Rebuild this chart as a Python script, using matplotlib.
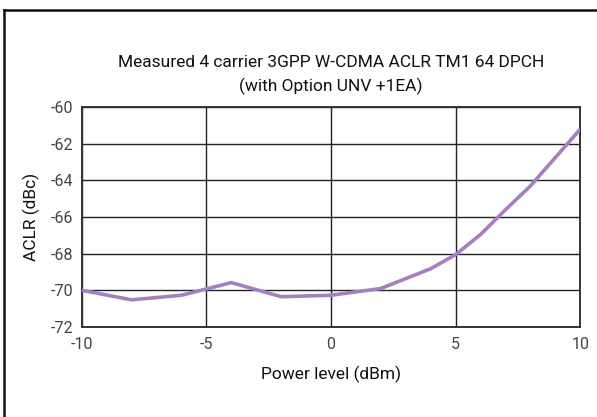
import matplotlib
matplotlib.use("Agg")
import matplotlib.pyplot as plt
from matplotlib.lines import Line2D

power_dbm = [-10, -8, -6, -4, -2, 0, 2, 4, 5, 6, 7, 8, 10]
aclr_dbc = [-70.0, -70.52, -70.27, -69.58, -70.35, -70.27, -69.9, -68.82, -68.05, -66.95, -65.6, -64.3, -61.2]
x_ticks = [-10, -5, 0, 5, 10]
y_ticks = [-72, -70, -68, -66, -64, -62, -60]
title = "Measured 4 carrier 3GPP W-CDMA ACLR TM1 64 DPCH\n(with Option UNV +1EA)"
xlabel = "Power level (dBm)"
ylabel = "ACLR (dBc)"

plt.rcParams['font.family'] = ['Roboto', 'DejaVu Sans']

fig = plt.figure(figsize=(5.97, 4.17), dpi=100)
ax = fig.add_axes([0.137, 0.216, 0.835, 0.527])

ax.plot(power_dbm, aclr_dbc, color='#a67fc2', linewidth=2.6, solid_capstyle='butt', zorder=3)

ax.set_xlim(-10, 10)
ax.set_ylim(-72, -60)
ax.set_xticks(x_ticks)
ax.set_yticks(y_ticks)
ax.set_xticklabels([str(t) for t in x_ticks])
ax.set_yticklabels([str(t) for t in y_ticks])
ax.tick_params(length=0, labelsize=11.5, labelcolor='#444444')
ax.tick_params(axis='x', pad=7)
ax.tick_params(axis='y', pad=6)
ax.grid(True, color='#222222', linewidth=1.0)
for s in ax.spines.values():
    s.set_color('#333333')
    s.set_linewidth(1.4)

ax.set_title(title, fontsize=12.5, color='#111111', pad=11.5, linespacing=1.55)
ax.set_xlabel(xlabel, fontsize=12.5, color='#111111', labelpad=10)
ax.set_ylabel(ylabel, fontsize=12.5, color='#111111', labelpad=8)

# figure frame (top and left edges)
fig.add_artist(Line2D([4/597, 1.0], [1 - 10/417, 1 - 10/417], transform=fig.transFigure, color='#111111', linewidth=1.8))
fig.add_artist(Line2D([4/597, 4/597], [0.0, 1 - 10/417], transform=fig.transFigure, color='#111111', linewidth=1.8))

fig.savefig("out.png", dpi=100)
